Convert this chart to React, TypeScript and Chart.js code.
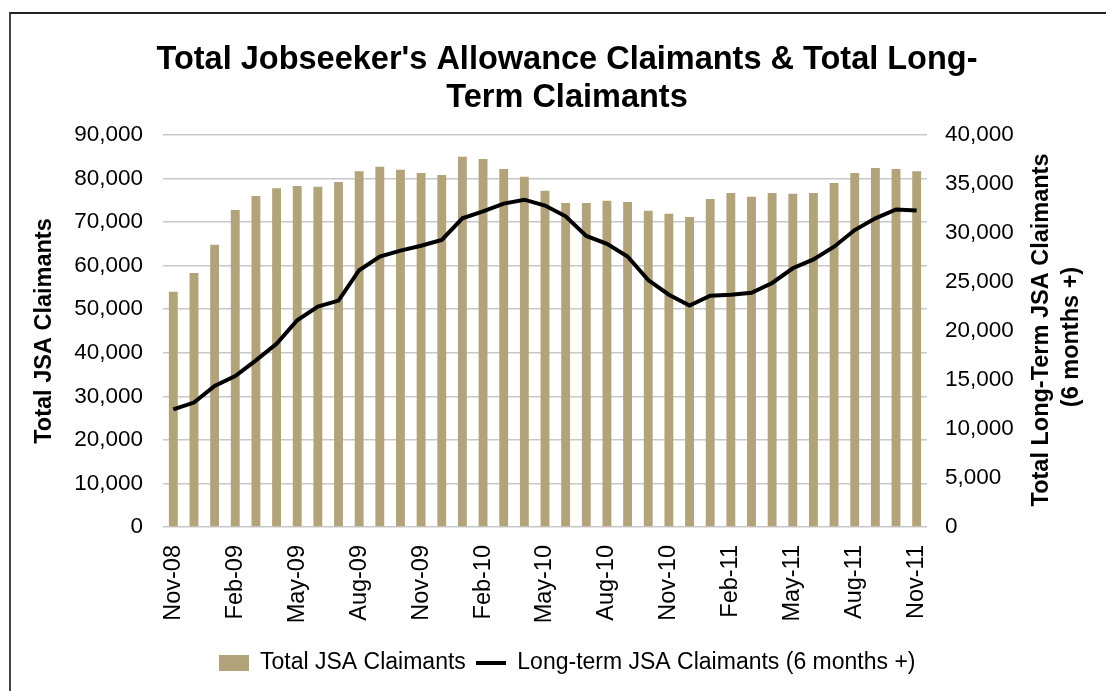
import React, { useEffect, useRef } from 'react';
import { Chart, registerables } from 'chart.js';

Chart.register(...registerables);

const months = [
  'Nov-08', 'Dec-08', 'Jan-09', 'Feb-09', 'Mar-09', 'Apr-09', 'May-09', 'Jun-09', 'Jul-09',
  'Aug-09', 'Sep-09', 'Oct-09', 'Nov-09', 'Dec-09', 'Jan-10', 'Feb-10', 'Mar-10', 'Apr-10',
  'May-10', 'Jun-10', 'Jul-10', 'Aug-10', 'Sep-10', 'Oct-10', 'Nov-10', 'Dec-10', 'Jan-11',
  'Feb-11', 'Mar-11', 'Apr-11', 'May-11', 'Jun-11', 'Jul-11', 'Aug-11', 'Sep-11', 'Oct-11',
  'Nov-11',
];

const totalClaimants = [
  54000, 58300, 64800, 72800, 76000, 77800, 78300, 78100, 79200,
  81700, 82700, 82000, 81300, 80800, 85000, 84500, 82200, 80400,
  77200, 74400, 74400, 74900, 74600, 72600, 71900, 71200, 75300,
  76700, 75800, 76700, 76500, 76700, 79000, 81300, 82400, 82200,
  81700,
];

const longTermClaimants = [
  12000, 12700, 14400, 15400, 17000, 18700, 21100, 22500, 23100,
  26200, 27600, 28200, 28700, 29300, 31500, 32200, 33000, 33400,
  32800, 31700, 29700, 28900, 27600, 25200, 23700, 22600, 23600,
  23700, 23900, 24900, 26400, 27300, 28600, 30300, 31500, 32400,
  32300,
];

const titleLines = ["Total Jobseeker's Allowance Claimants & Total Long-", 'Term Claimants'];
const leftAxisTitle = 'Total JSA Claimants';
const rightAxisTitle = ['Total Long-Term JSA Claimants', '(6 months +)'];
const seriesNames = ['Total JSA Claimants', 'Long-term JSA Claimants (6 months +)'];

const FONT = '"Liberation Sans", Arial, Helvetica, sans-serif';
const BAR_COLOR = '#B3A37A';
const GRID_COLOR = '#C8C8C8';

const fmt = (v: number | string) => Number(v).toLocaleString('en-US');

export default function App() {
  const ref = useRef<HTMLCanvasElement>(null);

  useEffect(() => {
    const barIcon = document.createElement('canvas');
    barIcon.width = 30;
    barIcon.height = 16;
    const bctx = barIcon.getContext('2d')!;
    bctx.fillStyle = BAR_COLOR;
    bctx.fillRect(0, 0, 30, 16);

    const lineIcon = document.createElement('canvas');
    lineIcon.width = 30;
    lineIcon.height = 16;
    const lctx = lineIcon.getContext('2d')!;
    lctx.fillStyle = '#000';
    lctx.fillRect(0, 6, 30, 4);

    const icons = [barIcon, lineIcon];

    const rightTitlePlugin = {
      id: 'rightTitle',
      afterDraw(chart: any) {
        const { ctx, chartArea } = chart;
        const midY = (chartArea.top + chartArea.bottom) / 2;
        ctx.save();
        ctx.font = `bold 23.5px ${FONT}`;
        ctx.fillStyle = '#000';
        ctx.textAlign = 'center';
        ctx.textBaseline = 'middle';
        const xs = [chartArea.right + 115, chartArea.right + 145];
        const dy = [-1, 6];
        rightAxisTitle.forEach((t, i) => {
          ctx.save();
          ctx.translate(xs[i], midY + dy[i]);
          ctx.rotate(-Math.PI / 2);
          ctx.fillText(t, 0, 0);
          ctx.restore();
        });
        ctx.restore();
      },
    };

    const chart = new Chart(ref.current!, {
      type: 'bar',
      data: {
        labels: months,
        datasets: [
          {
            type: 'bar',
            label: seriesNames[0],
            data: totalClaimants,
            backgroundColor: BAR_COLOR,
            barPercentage: 0.43,
            categoryPercentage: 1,
            yAxisID: 'y',
            order: 1,
          },
          {
            type: 'line',
            label: seriesNames[1],
            data: longTermClaimants,
            borderColor: '#000',
            backgroundColor: '#000',
            borderWidth: 4,
            pointRadius: 0,
            tension: 0,
            yAxisID: 'y1',
            order: 0,
          } as any,
        ],
      },
      options: {
        animation: false,
        responsive: true,
        maintainAspectRatio: false,
        events: [],
        layout: { padding: { left: 0, right: 0, top: 0, bottom: 6.5 } },
        plugins: {
          tooltip: { enabled: false },
          title: {
            display: true,
            text: titleLines,
            color: '#000',
            font: { family: FONT, size: 32.5, weight: 'bold', lineHeight: 38 / 32.5 },
            padding: { top: 27, bottom: 18 },
          },
          legend: {
            display: true,
            position: 'bottom',
            labels: {
              color: '#000',
              font: { family: FONT, size: 23 },
              usePointStyle: true,
              pointStyleWidth: 30,
              boxHeight: 16,
              padding: 10,
              generateLabels: (c: any) => {
                const items = Chart.defaults.plugins.legend.labels
                  .generateLabels(c)
                  .sort((a: any, b: any) => a.datasetIndex - b.datasetIndex);
                items.forEach((it: any) => {
                  it.pointStyle = icons[it.datasetIndex];
                });
                return items;
              },
            },
          },
        },
        scales: {
          x: {
            grid: { display: false },
            border: { display: false },
            ticks: {
              color: '#000',
              font: { family: FONT, size: 23.5 },
              autoSkip: false,
              minRotation: 90,
              maxRotation: 90,
              padding: 10,
              callback: function (this: any, value: any, index: number) {
                return index % 3 === 0 ? this.getLabelForValue(value) : '';
              },
            },
            afterFit: (s: any) => {
              s.height = 114.5;
            },
          },
          y: {
            position: 'left',
            min: 0,
            max: 90000,
            grid: { color: GRID_COLOR, lineWidth: 1.5, drawTicks: false },
            border: { display: false },
            ticks: {
              stepSize: 10000,
              color: '#000',
              font: { family: FONT, size: 22.5 },
              padding: 20,
              callback: (v: any) => fmt(v),
            },
            title: {
              display: true,
              text: leftAxisTitle,
              color: '#000',
              font: { family: FONT, size: 23.5, weight: 'bold' },
              padding: { top: 19, bottom: 0 },
            },
            afterFit: (s: any) => {
              s.width = 152;
            },
          },
          y1: {
            position: 'right',
            min: 0,
            max: 40000,
            grid: { display: false, drawTicks: false },
            border: { display: false },
            ticks: {
              stepSize: 5000,
              color: '#000',
              font: { family: FONT, size: 22.5 },
              padding: 18,
              callback: (v: any) => fmt(v),
            },
            afterFit: (s: any) => {
              s.width = 196;
            },
          },
        },
      },
      plugins: [rightTitlePlugin],
    });

    return () => chart.destroy();
  }, []);

  return (
    <div
      style={{
        position: 'fixed',
        left: 0,
        top: 0,
        width: 1106,
        height: 691,
        overflow: 'hidden',
        background: '#fff',
      }}
    >
      <div
        style={{
          position: 'absolute',
          left: 9,
          top: 12,
          width: 1200,
          height: 800,
          borderLeft: '2px solid #444',
          borderTop: '2px solid #222',
        }}
      />
      <div style={{ position: 'absolute', left: 11, top: 14, width: 1112, height: 677 }}>
        <canvas ref={ref} />
      </div>
    </div>
  );
}
